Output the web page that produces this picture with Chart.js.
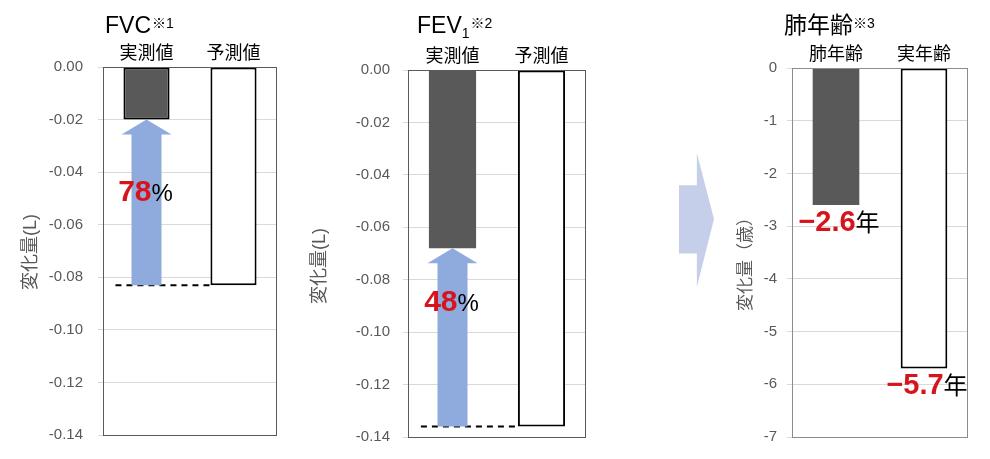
<!DOCTYPE html>
<html>
<head>
<meta charset="utf-8">
<script src="https://cdn.jsdelivr.net/npm/chart.js@4.4.1/dist/chart.umd.min.js"></script>
<style>
body { margin: 0; background: #fff; }
#wrap { position: relative; width: 990px; height: 459px; overflow: hidden; }
canvas { position: absolute; top: 0; }
#chev {
    position: absolute; left: 679px; top: 153px; width: 35px; height: 134px;
    background: #c5cfe9;
    clip-path: polygon(0 24%, 51% 24%, 51% 0, 100% 49.3%, 51% 100%, 51% 75%, 0 75%);
}
</style>
</head>
<body>
<div id="wrap">
    <canvas id="fvc" width="300" height="459" style="left:0px"></canvas>
    <canvas id="fev1" width="330" height="459" style="left:300px"></canvas>
    <div id="chev"></div>
    <canvas id="age" width="330" height="459" style="left:660px"></canvas>
</div>
<script>
// values
const fvcLabels = ['実測値', '予測値'];
const fvcValues = [-0.020, -0.083];
const fev1Labels = ['実測値', '予測値'];
const fev1Values = [-0.068, -0.136];
const ageLabels = ['肺年齢', '実年齢'];
const ageValues = [-2.6, -5.7];

const litreTicks = [0, -0.02, -0.04, -0.06, -0.08, -0.10, -0.12, -0.14];
const ageTicks = [0, -1, -2, -3, -4, -5, -6, -7];

const improvePct = ['78', '48'];
const ageText = ['−2.6', '−5.7'];

const FONT = '"Liberation Sans", "Noto Sans CJK JP", sans-serif';
const RED = '#d7141c';
const GREY = '#595959';
const DARK = '#595959';

Chart.defaults.font.family = FONT;

function drawTitle(ctx, parts, x, y) {
    // parts: [text, size, dy, gap]
    let cx = x;
    parts.forEach(p => {
        ctx.font = p[1] + 'px ' + FONT;
        ctx.fillStyle = '#000';
        ctx.textAlign = 'left';
        ctx.textBaseline = 'alphabetic';
        ctx.fillText(p[0], cx, y + p[2]);
        cx += ctx.measureText(p[0]).width + (p[3] || 0);
    });
}

function drawPair(ctx, bold, boldSize, rest, restSize, cx, y) {
    ctx.textBaseline = 'alphabetic';
    ctx.textAlign = 'left';
    ctx.font = 'bold ' + boldSize + 'px ' + FONT;
    const w1 = ctx.measureText(bold).width;
    ctx.font = restSize + 'px ' + FONT;
    const w2 = ctx.measureText(rest).width;
    let x = cx - (w1 + w2) / 2;
    ctx.font = 'bold ' + boldSize + 'px ' + FONT;
    ctx.fillStyle = RED;
    ctx.fillText(bold, x, y);
    ctx.font = restSize + 'px ' + FONT;
    ctx.fillStyle = '#000';
    ctx.fillText(rest, x + w1, y);
}

function makePanel(p) {
    const deco = {
        id: 'deco_' + p.id,
        afterDatasetsDraw(chart) {
            const ctx = chart.ctx;
            const a = chart.chartArea;
            const xs = chart.scales.x;
            const ys = chart.scales.y;
            ctx.save();
            // plot frame
            ctx.strokeStyle = p.frame;
            ctx.lineWidth = 1;
            ctx.strokeRect(Math.round(a.left) + 0.5, Math.round(a.top) + 0.5,
                Math.round(a.right - a.left) - 1, Math.round(a.bottom - a.top));

            const meta = chart.getDatasetMeta(0);
            const b0 = meta.data[0];
            const b1 = meta.data[1];
            const cx = xs.getPixelForValue(0);

            if (p.arrow) {
                const yTip = ys.getPixelForValue(p.values[0]);
                const yBase = ys.getPixelForValue(p.values[1]);
                // dashed level of the prediction
                ctx.strokeStyle = '#000';
                ctx.lineWidth = 2;
                ctx.setLineDash([6, 5]);
                ctx.beginPath();
                ctx.moveTo(b0.x - b0.width / 2 - 8, yBase);
                ctx.lineTo(b1.x - b1.width / 2, yBase);
                ctx.stroke();
                ctx.setLineDash([]);
                // up arrow
                ctx.fillStyle = '#8faadc';
                ctx.beginPath();
                ctx.moveTo(cx - 15, yBase);
                ctx.lineTo(cx - 15, yTip + 15);
                ctx.lineTo(cx - 25, yTip + 15);
                ctx.lineTo(cx, yTip);
                ctx.lineTo(cx + 25, yTip + 15);
                ctx.lineTo(cx + 15, yTip + 15);
                ctx.lineTo(cx + 15, yBase);
                ctx.closePath();
                ctx.fill();
                drawPair(ctx, p.pct, 30, '%', 24, cx - 1, ys.getPixelForValue(p.pctAt));
            }

            if (p.ageText) {
                meta.data.forEach((bar, i) => {
                    drawPair(ctx, p.ageText[i], 29, '年', 24, bar.x + 3, bar.y + 26);
                });
            }

            // title
            drawTitle(ctx, p.title, p.titleX, 33);

            // y axis title
            ctx.translate(p.yTitle[1], p.yTitle[2]);
            ctx.rotate(-Math.PI / 2);
            ctx.font = p.yTitle[3] + 'px ' + FONT;
            ctx.fillStyle = GREY;
            ctx.textAlign = 'center';
            ctx.textBaseline = 'middle';
            ctx.fillText(p.yTitle[0], 0, 0);
            ctx.restore();
        }
    };

    return new Chart(document.getElementById(p.id), {
        type: 'bar',
        data: {
            labels: p.labels,
            datasets: [{
                data: p.values,
                backgroundColor: [DARK, '#ffffff'],
                borderColor: '#000',
                borderWidth: p.borders,
                borderSkipped: false,
                categoryPercentage: 1,
                barPercentage: 0.53
            }]
        },
        options: {
            responsive: false,
            animation: false,
            layout: { padding: { left: 0, right: p.padR, top: p.padT, bottom: 22 } },
            plugins: { legend: { display: false }, tooltip: { enabled: false } },
            scales: {
                x: {
                    position: 'top',
                    grid: { display: false, drawTicks: false },
                    border: { display: false },
                    ticks: { color: '#000', font: { size: 18 }, padding: 2 },
                    afterFit: s => { s.height = 30; }
                },
                y: {
                    min: Math.min(...p.ticks),
                    max: Math.max(...p.ticks),
                    afterBuildTicks: s => { s.ticks = p.ticks.map(v => ({ value: v })); },
                    afterFit: s => { s.width = p.left; },
                    grid: { color: '#d9d9d9', tickLength: 5, drawTicks: true },
                    border: { display: false },
                    ticks: {
                        color: GREY,
                        font: { size: 15 },
                        padding: p.tickPad,
                        callback: v => p.fmt(v)
                    }
                }
            }
        },
        plugins: [deco]
    });
}

makePanel({
    id: 'fvc', labels: fvcLabels, values: fvcValues, ticks: litreTicks,
    fmt: v => v.toFixed(2), left: 103, padR: 23, padT: 37, tickPad: 15,
    borders: [2, 2], frame: '#595959', arrow: true, pct: improvePct[0], pctAt: -0.051,
    title: [['FVC', 23, 0, 1], ['※1', 14, -5]], titleX: 105,
    yTitle: ['変化量(L)', 31, 252, 18]
});

makePanel({
    id: 'fev1', labels: fev1Labels, values: fev1Values, ticks: litreTicks,
    fmt: v => v.toFixed(2), left: 108, padR: 44, padT: 40, tickPad: 13,
    borders: [0, 2], frame: '#595959', arrow: true, pct: improvePct[1], pctAt: -0.092,
    title: [['FEV', 23, 0], ['1', 14, 5, 1], ['※2', 14, -5]], titleX: 117,
    yTitle: ['変化量(L)', 20, 266, 18]
});

makePanel({
    id: 'age', labels: ageLabels, values: ageValues, ticks: ageTicks,
    fmt: v => String(v), left: 132, padR: 22, padT: 38, tickPad: 10,
    borders: [0, 2], frame: '#8c8c8c', arrow: false, ageText: ageText,
    title: [['肺年齢', 23, 0], ['※3', 14, -5]], titleX: 124,
    yTitle: ['変化量（歳）', 86, 260, 17]
});
</script>
</body>
</html>
